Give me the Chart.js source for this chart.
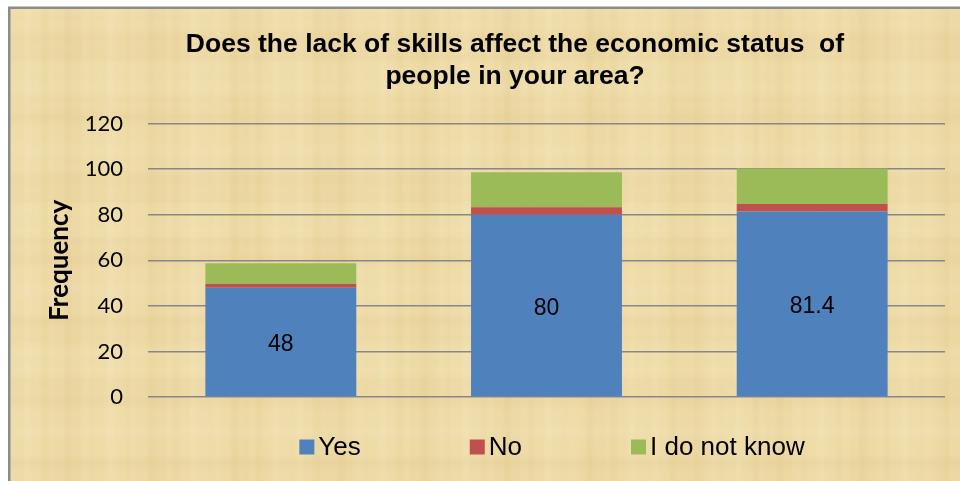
<!DOCTYPE html>
<html>
<head>
<meta charset="utf-8">
<script src="https://cdn.jsdelivr.net/npm/chart.js@4.4.1/dist/chart.umd.min.js"></script>
<style>
  html, body { margin: 0; padding: 0; background: #ffffff; }
  #wrap { width: 960px; height: 481px; position: relative; }
</style>
</head>
<body>
<div id="wrap"><canvas id="c" width="960" height="481"></canvas></div>
<script>
// Survey groups (not labelled on the axis)
const categories = [1, 2, 3];

// Stacked answer counts per group
const yesValues = [48, 80, 81.4];
const noValues = [1.6, 3.3, 3.3];
const dontKnowValues = [9.1, 15.3, 15.6];

const seriesNames = ['Yes', 'No', 'I do not know'];
const seriesColors = ['#4F81BD', '#C0504D', '#9BBB59'];

const yTickValues = [0, 20, 40, 60, 80, 100, 120];
const titleLines = ['Does the lack of skills affect the economic status  of', 'people in your area?'];
const yAxisTitle = 'Frequency';

// Papyrus-like backdrop and the frame around the chart
const parchment = {
  id: 'parchment',
  beforeDraw(chart) {
    const { ctx, width, height } = chart;
    ctx.save();
    ctx.fillStyle = '#ffffff';
    ctx.fillRect(0, 0, width, height);
    ctx.fillStyle = '#EEDBA7';
    ctx.fillRect(8, 7, width, height);
    for (let x = 8; x < width; x += 2) {
      const v = Math.sin(x * 0.071) + 0.6 * Math.sin(x * 0.23 + 1.3) + 0.4 * Math.sin(x * 0.53 + 0.4);
      ctx.fillStyle = v > 0
        ? 'rgba(255,246,218,' + Math.min(v * 0.08, 0.2) + ')'
        : 'rgba(195,155,75,' + Math.min(-v * 0.045, 0.11) + ')';
      ctx.fillRect(x, 7, 2, height);
    }
    for (let y = 7; y < height; y += 3) {
      const v = Math.sin(y * 0.09 + 0.7) + 0.5 * Math.sin(y * 0.31);
      ctx.fillStyle = v > 0
        ? 'rgba(255,248,225,' + (v * 0.06) + ')'
        : 'rgba(185,145,65,' + (-v * 0.035) + ')';
      ctx.fillRect(8, y, width, 3);
    }
    ctx.strokeStyle = '#8C8C8C';
    ctx.lineWidth = 2.5;
    ctx.strokeRect(9.25, 7.75, width + 20, height + 20);
    ctx.restore();
  }
};

// Value labels centred inside the "Yes" segments
const yesLabels = {
  id: 'yesLabels',
  afterDatasetsDraw(chart) {
    const meta = chart.getDatasetMeta(0);
    const values = chart.data.datasets[0].data;
    const ctx = chart.ctx;
    ctx.save();
    ctx.font = '23px "Liberation Sans", Arial, sans-serif';
    ctx.fillStyle = '#000000';
    ctx.textAlign = 'center';
    ctx.textBaseline = 'middle';
    meta.data.forEach((bar, i) => {
      const p = bar.getProps(['x', 'y', 'base'], true);
      ctx.fillText(String(values[i]), p.x, (p.y + p.base) / 2 + 3);
    });
    ctx.restore();
  }
};

// Legend row under the plot
const bottomLegend = {
  id: 'bottomLegend',
  afterDraw(chart, args, opts) {
    const ctx = chart.ctx;
    const sets = chart.data.datasets;
    ctx.save();
    ctx.font = opts.font;
    const widths = sets.map(ds => ctx.measureText(ds.label).width);
    const box = opts.boxSize, gap = opts.textGap, spacing = opts.itemSpacing;
    let total = 0;
    widths.forEach((w, i) => { total += box + gap + w + (i < widths.length - 1 ? spacing : 0); });
    let x = opts.centerX - total / 2;
    const cy = opts.centerY;
    ctx.textBaseline = 'middle';
    ctx.textAlign = 'left';
    sets.forEach((ds, i) => {
      ctx.fillStyle = ds.backgroundColor;
      ctx.fillRect(x, cy - box / 2, box, box);
      ctx.fillStyle = '#000000';
      ctx.fillText(ds.label, x + box + gap, cy + 1);
      x += box + gap + widths[i] + spacing;
    });
    ctx.restore();
  }
};

const seriesValues = [yesValues, noValues, dontKnowValues];

new Chart(document.getElementById('c'), {
  type: 'bar',
  data: {
    labels: categories,
    datasets: seriesNames.map((name, i) => ({
      label: name,
      data: seriesValues[i],
      backgroundColor: seriesColors[i],
      borderWidth: 0,
      categoryPercentage: 1,
      barPercentage: 0.568
    }))
  },
  options: {
    responsive: false,
    animation: false,
    layout: { padding: { left: 85, right: 15, top: 8, bottom: 84 } },
    plugins: {
      legend: { display: false },
      tooltip: { enabled: false },
      title: {
        display: true,
        text: titleLines,
        color: '#000000',
        font: { family: '"Liberation Sans", Arial, sans-serif', size: 26.5, weight: 'bold', lineHeight: 1.2 },
        padding: { top: 21, bottom: 31 }
      },
      bottomLegend: {
        font: '26px "Liberation Sans", Arial, sans-serif',
        boxSize: 15,
        textGap: 4,
        itemSpacing: 109,
        centerX: 552,
        centerY: 447
      }
    },
    scales: {
      x: { display: false, stacked: true },
      y: {
        stacked: true,
        min: 0,
        max: 120,
        afterBuildTicks(scale) { scale.ticks = yTickValues.map(v => ({ value: v })); },
        afterFit(scale) { scale.width = 63; },
        ticks: { color: '#000000', font: { family: 'Lato', size: 22 }, padding: 25 },
        grid: { color: '#878787', lineWidth: 1.5, drawTicks: false },
        border: { display: false },
        title: {
          display: true,
          text: yAxisTitle,
          color: '#000000',
          font: { family: 'Lato', size: 26, weight: 'bold' },
          padding: { top: -40.6, bottom: 0 }
        }
      }
    }
  },
  plugins: [parchment, yesLabels, bottomLegend]
});
</script>
</body>
</html>
